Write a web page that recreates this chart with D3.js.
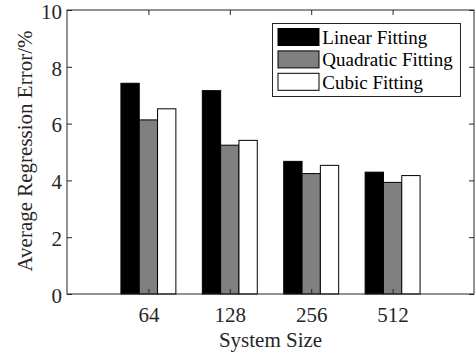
<!DOCTYPE html>
<html>
<head>
<meta charset="utf-8">
<script src="https://cdn.jsdelivr.net/npm/d3@7"></script>
<style>
  html, body { margin: 0; padding: 0; background: #fff; }
  svg text { font-family: "Liberation Serif", "Times New Roman", serif; fill: #262626; }
</style>
</head>
<body>
<svg id="chart" width="475" height="356"></svg>
<script>
// System sizes on the x axis
const categories = ["64", "128", "256", "512"];
// Regression error (%) per fitting method
const seriesNames = ["Linear Fitting", "Quadratic Fitting", "Cubic Fitting"];
const linear    = [7.42, 7.16, 4.67, 4.29];
const quadratic = [6.13, 5.24, 4.24, 3.93];
const cubic     = [6.52, 5.41, 4.53, 4.17];
const yTicks = [0, 2, 4, 6, 8, 10];
const fills = ["#000000", "#808080", "#ffffff"];

const series = [linear, quadratic, cubic];

const svg = d3.select("#chart");
const m = { left: 67, right: 1, top: 10, bottom: 62 };
const W = 475, H = 356;
const x0 = m.left, x1 = W - m.right, y0 = H - m.bottom, y1 = m.top;

// numeric x positions 1..4 on a 0..5 range
const x = d3.scaleLinear().domain([0, 5]).range([x0, x1]);
const y = d3.scaleLinear().domain([0, 10]).range([y0, y1]);
const barW = 0.225;
const offsets = [-1, 0, 1];

// bars
series.forEach((vals, s) => {
  svg.append("g").selectAll("rect").data(vals).join("rect")
    .attr("x", (d, i) => x(i + 1 + offsets[s] * barW - barW / 2))
    .attr("width", x(barW) - x(0))
    .attr("y", d => y(d))
    .attr("height", d => y(0) - y(d))
    .attr("fill", fills[s])
    .attr("stroke", "#000")
    .attr("stroke-width", 1);
});

const axisColor = "#262626";
const tickPos = categories.map((c, i) => i + 1);

// bottom axis
const axB = svg.append("g").attr("transform", `translate(0,${y0})`)
  .call(d3.axisBottom(x).tickValues(tickPos).tickFormat((d, i) => categories[i]).tickSize(-5));
axB.selectAll("text").attr("y", 28).attr("dy", 0);
// top axis (mirrored ticks)
const axT = svg.append("g").attr("transform", `translate(0,${y1})`)
  .call(d3.axisTop(x).tickValues(tickPos).tickFormat("").tickSize(-5));
// left axis
const axL = svg.append("g").attr("transform", `translate(${x0},0)`)
  .call(d3.axisLeft(y).tickValues(yTicks).tickFormat(d3.format("d")).tickSize(-5).tickPadding(5));
axL.selectAll("text").attr("dy", "0.39em");
// right axis (mirrored ticks)
const axR = svg.append("g").attr("transform", `translate(${x1},0)`)
  .call(d3.axisRight(y).tickValues(yTicks).tickFormat("").tickSize(-5));

[axB, axT, axL, axR].forEach(g => {
  g.select(".domain").remove();
  g.selectAll("line").attr("stroke", axisColor).attr("stroke-width", 1);
  g.selectAll("text").attr("font-size", 21).attr("fill", axisColor)
    .style("font-family", "'Liberation Serif', serif");
});

// plot box
svg.append("rect")
  .attr("x", x0).attr("y", y1)
  .attr("width", x1 - x0).attr("height", y0 - y1)
  .attr("fill", "none").attr("stroke", axisColor).attr("stroke-width", 1);

// axis titles
svg.append("text")
  .attr("x", (x0 + x1) / 2).attr("y", 346.5)
  .attr("text-anchor", "middle").attr("font-size", 21)
  .text("System Size");
svg.append("text")
  .attr("transform", `translate(32,151) rotate(-90)`)
  .attr("text-anchor", "middle").attr("font-size", 21)
  .text("Average Regression Error/%");

// legend
const lg = svg.append("g");
lg.append("rect")
  .attr("x", 272.5).attr("y", 23.5).attr("width", 188).attr("height", 73)
  .attr("fill", "#fff").attr("stroke", axisColor).attr("stroke-width", 1);
seriesNames.forEach((name, i) => {
  const yy = 28.5 + i * 22.4;
  lg.append("rect")
    .attr("x", 278).attr("y", yy).attr("width", 41).attr("height", 17)
    .attr("fill", fills[i]).attr("stroke", "#000").attr("stroke-width", 1);
  lg.append("text")
    .attr("x", 322.3).attr("y", yy + 15.5)
    .attr("font-size", 19).style("fill", "#000")
    .text(name);
});
</script>
</body>
</html>
